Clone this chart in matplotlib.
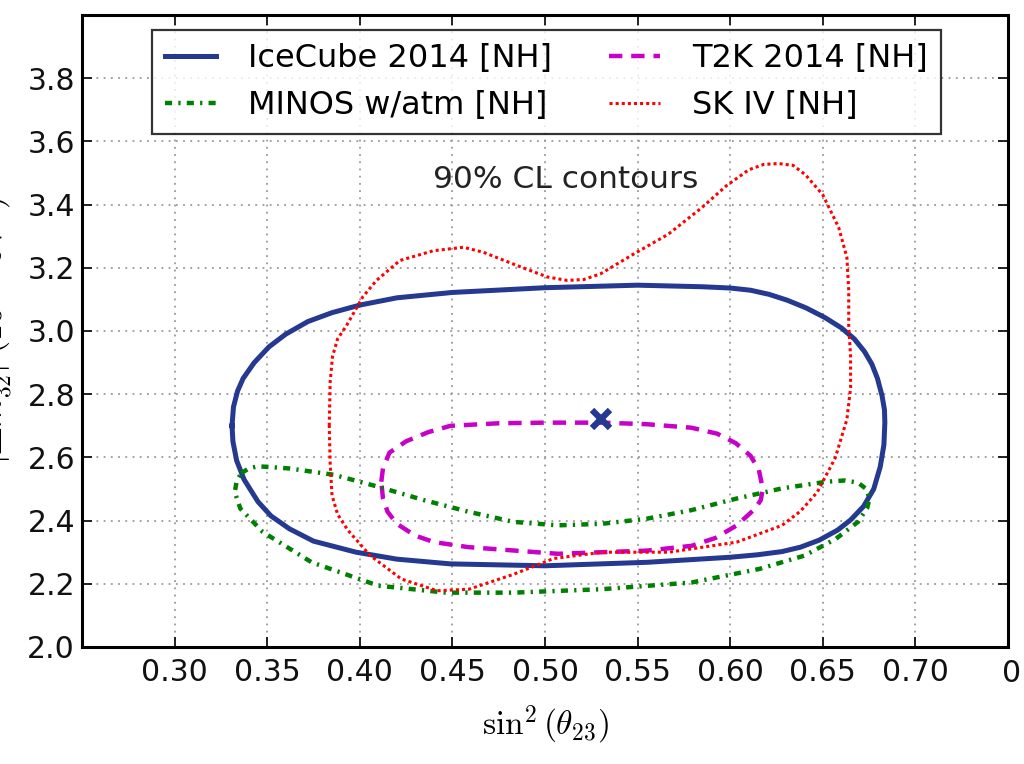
import matplotlib
matplotlib.use("Agg")
import matplotlib.pyplot as plt

plt.rcParams["font.family"] = ["DejaVu Sans"]
plt.rcParams["mathtext.fontset"] = "cm"

# 90% CL contours in (sin^2 theta23, |dm^2_32| [1e-3 eV^2])
icecube_x = [0.331, 0.3318, 0.334, 0.337, 0.343, 0.351, 0.360, 0.372, 0.385, 0.400,
             0.420, 0.450, 0.500, 0.550, 0.585, 0.600, 0.611, 0.621, 0.631, 0.641,
             0.651, 0.660, 0.667, 0.6725, 0.6765, 0.6795, 0.682, 0.6833, 0.6835, 0.683,
             0.681, 0.6775, 0.672, 0.665, 0.658, 0.648, 0.638, 0.628, 0.615, 0.600,
             0.555, 0.500, 0.449, 0.420, 0.398, 0.375, 0.362, 0.352, 0.345, 0.3375,
             0.3335, 0.3315, 0.331]
icecube_y = [2.700, 2.760, 2.810, 2.850, 2.900, 2.950, 2.990, 3.030, 3.058, 3.082,
             3.105, 3.122, 3.137, 3.145, 3.140, 3.136, 3.129, 3.116, 3.097, 3.073,
             3.043, 3.010, 2.975, 2.935, 2.895, 2.850, 2.795, 2.750, 2.710, 2.640,
             2.570, 2.500, 2.445, 2.402, 2.370, 2.338, 2.316, 2.302, 2.292, 2.284,
             2.268, 2.257, 2.263, 2.278, 2.300, 2.335, 2.374, 2.415, 2.460, 2.530,
             2.590, 2.650, 2.700]

t2k_x = [0.4116, 0.4125, 0.416, 0.425, 0.437, 0.449, 0.475, 0.500, 0.531, 0.555,
         0.579, 0.593, 0.603, 0.611, 0.6155, 0.6176, 0.6165, 0.6135, 0.6036, 0.592,
         0.579, 0.555, 0.507, 0.4587, 0.4400, 0.4297, 0.420, 0.415, 0.4125, 0.4116]
t2k_y = [2.523, 2.565, 2.615, 2.651, 2.680, 2.700, 2.708, 2.710, 2.710, 2.705,
         2.694, 2.675, 2.645, 2.605, 2.560, 2.500, 2.465, 2.438, 2.385, 2.345,
         2.320, 2.305, 2.295, 2.316, 2.332, 2.353, 2.390, 2.428, 2.470, 2.523]

minos_x = [0.336, 0.340, 0.345, 0.362, 0.386, 0.410, 0.4345, 0.4587, 0.483, 0.507,
           0.531, 0.555, 0.579, 0.6036, 0.628, 0.652, 0.662, 0.669, 0.6735, 0.6752,
           0.674, 0.669, 0.657, 0.640, 0.6157, 0.579, 0.531, 0.483, 0.4466, 0.410,
           0.374, 0.3476, 0.3355, 0.3325, 0.3335, 0.336]
minos_y = [2.550, 2.565, 2.572, 2.565, 2.545, 2.507, 2.465, 2.428, 2.396, 2.385,
           2.390, 2.406, 2.433, 2.470, 2.502, 2.523, 2.527, 2.520, 2.500, 2.470,
           2.440, 2.396, 2.342, 2.289, 2.247, 2.204, 2.183, 2.172, 2.172, 2.194,
           2.268, 2.364, 2.438, 2.490, 2.525, 2.550]

sk_x = [0.3835, 0.3840, 0.3853, 0.388, 0.3926, 0.397, 0.4016, 0.409, 0.4216, 0.4397,
        0.456, 0.4668, 0.485, 0.5013, 0.512, 0.521, 0.530, 0.548, 0.5665, 0.5846,
        0.598, 0.610, 0.618, 0.626, 0.634, 0.6407, 0.650, 0.6586, 0.663, 0.664,
        0.664, 0.665, 0.665, 0.663, 0.6567, 0.647, 0.638, 0.628, 0.6036, 0.567,
        0.531, 0.5046, 0.483, 0.459, 0.4418, 0.4225, 0.4055, 0.3935, 0.388, 0.3850,
        0.3840, 0.3835]
sk_y = [2.700, 2.840, 2.920, 2.975, 3.015, 3.060, 3.108, 3.160, 3.223, 3.254,
        3.265, 3.249, 3.207, 3.171, 3.160, 3.163, 3.181, 3.244, 3.306, 3.390,
        3.460, 3.510, 3.527, 3.530, 3.524, 3.494, 3.431, 3.327, 3.233, 3.129,
        3.015, 2.920, 2.820, 2.720, 2.598, 2.490, 2.430, 2.385, 2.332, 2.300,
        2.300, 2.280, 2.230, 2.183, 2.178, 2.215, 2.290, 2.370, 2.420, 2.480,
        2.580, 2.700]

best_fit = (0.53, 2.72)

labels = ["IceCube 2014 [NH]", "MINOS w/atm [NH]", "T2K 2014 [NH]", "SK IV [NH]"]
xticks = [0.30, 0.35, 0.40, 0.45, 0.50, 0.55, 0.60, 0.65, 0.70, 0.75]
yticks = [2.0, 2.2, 2.4, 2.6, 2.8, 3.0, 3.2, 3.4, 3.6, 3.8, 4.0]

fig = plt.figure(figsize=(10.24, 7.64), dpi=100)
ax = fig.add_axes([82 / 1024, 117 / 764, 926 / 1024, 632 / 764])

l_ic, = ax.plot(icecube_x, icecube_y, color="#24398f", lw=3.6,
                solid_joinstyle="round")
l_t2k, = ax.plot(t2k_x, t2k_y, color="#c800c8", lw=3.2, linestyle=(0, (3.0, 2.0)))
l_mn, = ax.plot(minos_x, minos_y, color="#008000", lw=3.2,
                linestyle=(0, (1.6, 1.4, 0.5, 1.4)))
l_sk, = ax.plot(sk_x, sk_y, color="#ff0000", lw=2.2, linestyle=(0, (1.0, 1.0)))
ax.plot([best_fit[0]], [best_fit[1]], marker="x", color="#24398f",
        markersize=13, mew=4.5, linestyle="none")

ax.text(0.511, 3.478, "90% CL contours", ha="center", va="center",
        fontsize=22.5, color="#222222")

ax.set_xlim(0.25, 0.75)
ax.set_ylim(2.0, 4.0)
ax.set_xticks(xticks)
ax.set_xticklabels([f"{v:.2f}" if v < 0.745 else "" for v in xticks])
ax.set_yticks(yticks)
ax.set_yticklabels([f"{v:.1f}" if v < 3.95 else "" for v in yticks])

ax.tick_params(direction="in", length=7, width=1.3, top=True, right=True,
               labelsize=21.5, colors="#111111")
ax.tick_params(axis="x", pad=8)
ax.tick_params(axis="y", pad=5)
for sp in ax.spines.values():
    sp.set_linewidth(2.2)
    sp.set_color("black")

# last x tick label sits at the right edge of the canvas
ax.annotate(f"{xticks[-1]:.2f}", xy=(xticks[-1], 0),
            xycoords=("data", "axes fraction"), xytext=(-4, -8.5),
            textcoords="offset points", ha="left", va="top",
            fontsize=21.5, color="#111111")

ax.grid(True, color="0.6", linestyle=(0, (1.0, 3.0)), linewidth=1.3)
ax.set_axisbelow(True)

ax.set_xlabel(r"$\sin^2(\theta_{23})$", fontsize=24, labelpad=12)
ax.set_ylabel(r"$|\Delta m^2_{32}|\ (10^{-3}\ \mathrm{eV}^2)$", fontsize=24)
ax.yaxis.set_label_coords(-0.072, 0.5)

leg = ax.legend([l_ic, l_mn, l_t2k, l_sk], labels, ncol=2, loc="upper center",
                bbox_to_anchor=(0.5016, 0.976), fontsize=23, frameon=True,
                fancybox=False, edgecolor="black", handlelength=1.6,
                handletextpad=1.0, columnspacing=1.8, borderaxespad=0.0,
                borderpad=0.4, labelspacing=0.5)
leg.get_frame().set_linewidth(1.6)

fig.savefig("out.png", dpi=100)
